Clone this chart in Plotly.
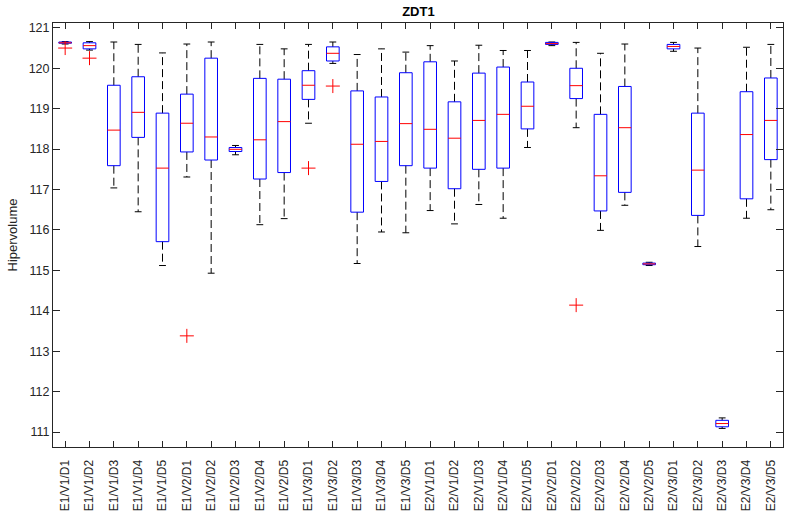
import plotly.graph_objects as go

# labels of the 30 configurations
labels = [f"E{e}/V{v}/D{d}" for e in (1, 2) for v in (1, 2, 3) for d in (1, 2, 3, 4, 5)]

# box statistics
whisker_hi = [120.66, 120.66, 120.65, 120.59, 120.38, 120.60, 120.65, 118.09, 120.59, 120.48,
              120.59, 120.65, 120.34, 120.48, 120.40, 120.56, 120.18, 120.57, 120.44, 120.44,
              120.65, 120.64, 120.37, 120.60, 115.20, 120.64, 120.50, 111.35, 120.52, 120.59]
q3 = [120.65, 120.63, 119.58, 119.79, 118.89, 119.36, 120.25, 118.04, 119.75, 119.73,
      119.94, 120.53, 119.44, 119.29, 119.89, 120.16, 119.17, 119.88, 120.03, 119.66,
      120.64, 120.00, 118.86, 119.55, 115.18, 120.59, 118.89, 111.29, 119.42, 119.76]
median = [120.63, 120.56, 118.47, 118.91, 117.53, 118.64, 118.30, 117.995, 118.23, 118.68,
          119.58, 120.37, 118.12, 118.19, 118.63, 118.49, 118.27, 118.71, 118.86, 119.06,
          120.61, 119.57, 117.34, 118.53, 115.16, 120.54, 117.48, 111.21, 118.36, 118.71]
q1 = [120.62, 120.48, 117.59, 118.29, 115.71, 117.93, 117.73, 117.94, 117.26, 117.42,
      119.23, 120.18, 116.44, 117.20, 117.59, 117.53, 117.02, 117.50, 117.53, 118.50,
      120.59, 119.25, 116.47, 116.93, 115.14, 120.48, 116.36, 111.13, 116.77, 117.74]
whisker_lo = [120.60, 120.45, 117.04, 116.45, 115.12, 117.31, 114.93, 117.86, 116.13, 116.28,
              118.64, 120.12, 115.17, 115.95, 115.93, 116.48, 116.15, 116.63, 116.29, 118.04,
              120.56, 118.53, 115.99, 116.61, 115.12, 120.42, 115.59, 111.09, 116.29, 116.50]

# outliers: (box number, value)
outlier_box = [1, 2, 6, 11, 12, 22]
outlier_val = [120.50, 120.25, 113.38, 117.53, 119.56, 114.14]

BOX_W = 0.26
CAP_W = 0.14

box_x, box_y = [], []
med_x, med_y = [], []
wh_x, wh_y = [], []
cap_x, cap_y = [], []
for i in range(len(labels)):
    x = i + 1
    box_x += [x - BOX_W, x + BOX_W, x + BOX_W, x - BOX_W, x - BOX_W, None]
    box_y += [q1[i], q1[i], q3[i], q3[i], q1[i], None]
    med_x += [x - BOX_W, x + BOX_W, None]
    med_y += [median[i], median[i], None]
    wh_x += [x, x, None, x, x, None]
    wh_y += [q3[i], whisker_hi[i], None, q1[i], whisker_lo[i], None]
    cap_x += [x - CAP_W, x + CAP_W, None, x - CAP_W, x + CAP_W, None]
    cap_y += [whisker_hi[i], whisker_hi[i], None, whisker_lo[i], whisker_lo[i], None]

fig = go.Figure()
fig.add_trace(go.Scatter(x=wh_x, y=wh_y, mode="lines",
                         line=dict(color="black", width=1, dash="8px,4px")))
fig.add_trace(go.Scatter(x=cap_x, y=cap_y, mode="lines", line=dict(color="black", width=1)))
fig.add_trace(go.Scatter(x=box_x, y=box_y, mode="lines", line=dict(color="#0000FF", width=1)))
fig.add_trace(go.Scatter(x=med_x, y=med_y, mode="lines", line=dict(color="#FF0000", width=1)))
fig.add_trace(go.Scatter(x=outlier_box, y=outlier_val, mode="markers",
                         marker=dict(symbol="cross-thin", size=10,
                                     line=dict(color="#FF0000", width=1))))

axis_color = "#262626"
fig.update_layout(
    width=797, height=525,
    margin=dict(l=53, r=14, t=23, b=78),
    paper_bgcolor="white", plot_bgcolor="white",
    showlegend=False,
    font=dict(family="Liberation Sans, Arial, sans-serif", color=axis_color),
    title=dict(text="<b>ZDT1</b>", x=0.525, xanchor="center", y=0.987, yanchor="top",
               font=dict(size=13, color="black")),
)
fig.update_xaxes(
    range=[0.5, 30.5], tickmode="array", tickvals=list(range(1, len(labels) + 1)),
    ticktext=labels, tickangle=-90, tickfont=dict(size=12), ticklabelstandoff=7,
    showgrid=False, zeroline=False, showline=True, linecolor=axis_color, linewidth=1,
    mirror="ticks", ticks="inside", ticklen=6, tickcolor=axis_color,
)
fig.update_yaxes(
    range=[110.63, 121.12], tickmode="array", tickvals=list(range(111, 122)),
    tickfont=dict(size=12.5), showgrid=False, zeroline=False,
    showline=True, linecolor=axis_color, linewidth=1,
    mirror="ticks", ticks="inside", ticklen=7, tickcolor=axis_color,
    title=dict(text="Hipervolume", font=dict(size=13), standoff=8),
)

fig.write_html("out.html", config={"displayModeBar": False},
               post_script="document.body.style.margin='0';")
